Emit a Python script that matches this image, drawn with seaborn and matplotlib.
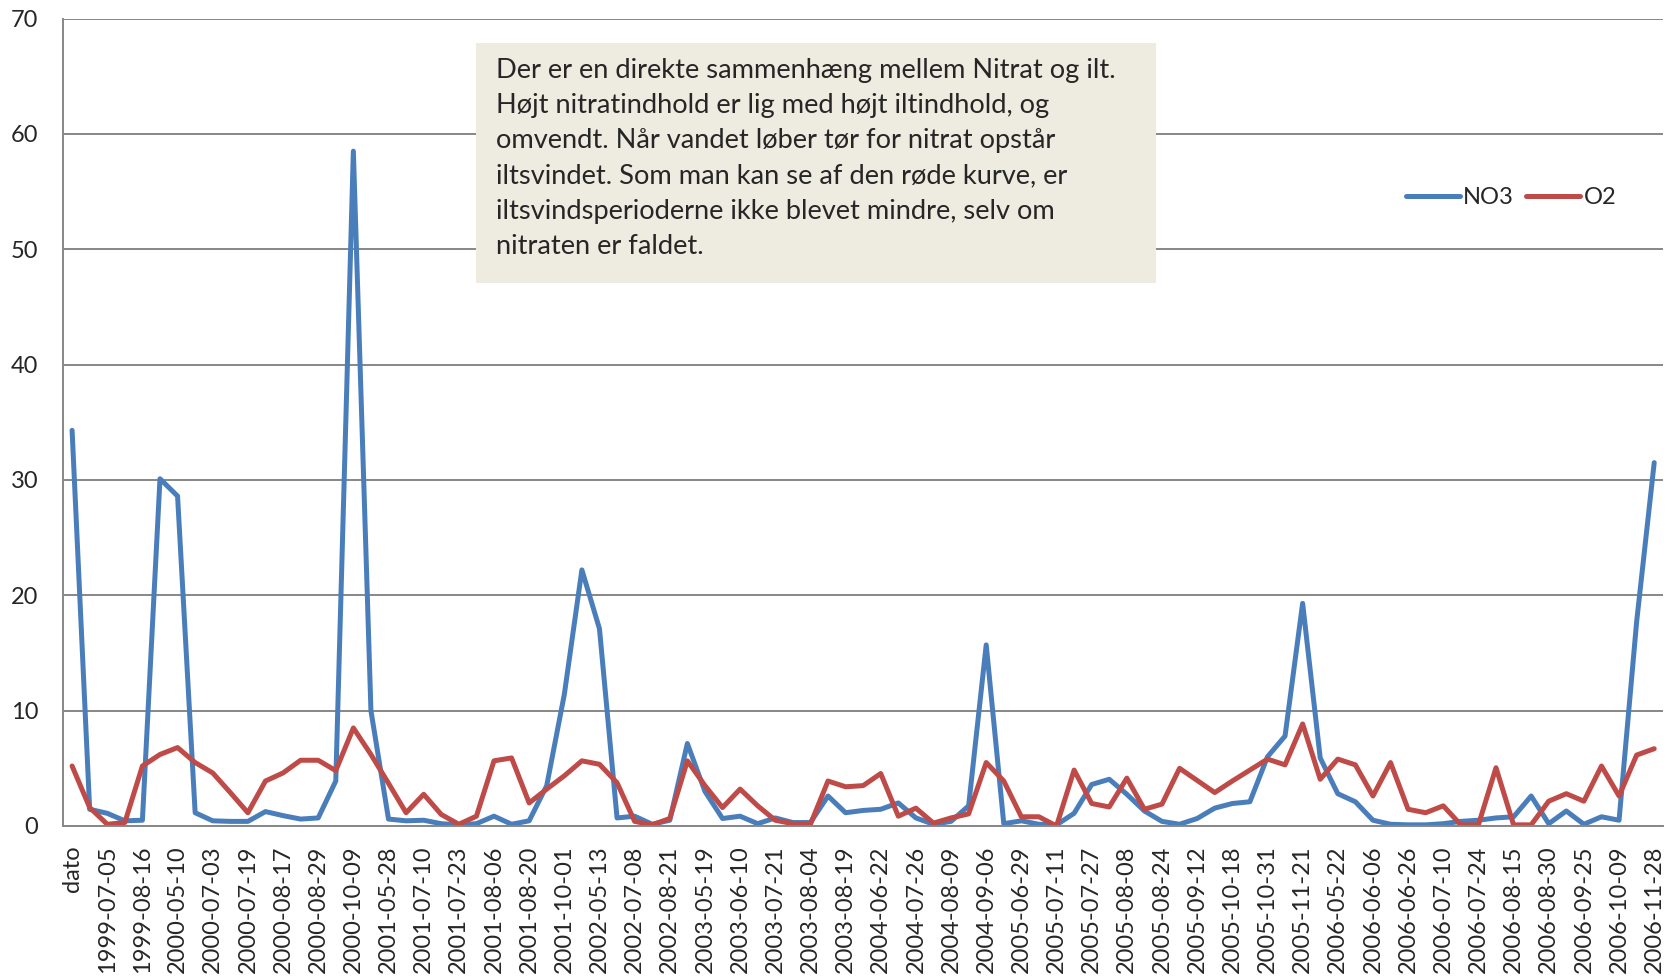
import numpy as np
import pandas as pd
import seaborn as sns
import matplotlib.pyplot as plt
from matplotlib.patches import Rectangle

# tick labels shown on the x axis (every second sample)
labels = ['dato', '1999-07-05', '1999-08-16', '2000-05-10', '2000-07-03', '2000-07-19',
          '2000-08-17', '2000-08-29', '2000-10-09', '2001-05-28', '2001-07-10', '2001-07-23',
          '2001-08-06', '2001-08-20', '2001-10-01', '2002-05-13', '2002-07-08', '2002-08-21',
          '2003-05-19', '2003-06-10', '2003-07-21', '2003-08-04', '2003-08-19', '2004-06-22',
          '2004-07-26', '2004-08-09', '2004-09-06', '2005-06-29', '2005-07-11', '2005-07-27',
          '2005-08-08', '2005-08-24', '2005-09-12', '2005-10-18', '2005-10-31', '2005-11-21',
          '2006-05-22', '2006-06-06', '2006-06-26', '2006-07-10', '2006-07-24', '2006-08-15',
          '2006-08-30', '2006-09-25', '2006-10-09', '2006-11-28']

no3 = [34.3, 1.45, 1.1, 0.45, 0.5, 30.1, 28.6, 1.15, 0.45, 0.4, 0.4, 1.25, 0.9, 0.6, 0.7, 3.9, 58.5, 10.0, 0.6, 0.45,
       0.5, 0.2, 0.1, 0.2, 0.85, 0.15, 0.45, 3.5, 11.4, 22.2, 17.1, 0.7, 0.85, 0.15, 0.5, 7.15, 3.0, 0.65, 0.85, 0.2, 0.7, 0.3, 0.3,
       2.6, 1.15, 1.35, 1.45, 2.0, 0.7, 0.15, 0.4, 1.75, 15.7, 0.2, 0.45, 0.15, 0.1, 1.1, 3.6, 4.05, 2.75, 1.3, 0.4, 0.15, 0.65, 1.55, 1.95,
       2.1, 6.0, 7.8, 19.3, 5.9, 2.8, 2.1, 0.5, 0.15, 0.1, 0.1, 0.2, 0.4, 0.5, 0.7, 0.8, 2.6, 0.2, 1.3, 0.15, 0.8, 0.5, 17.7, 31.5]

o2 = [5.2, 1.6, 0.15, 0.3, 5.2, 6.2, 6.8, 5.5, 4.6, 2.9, 1.15, 3.9, 4.6, 5.7, 5.7, 4.8, 8.5, 6.2, 3.7, 1.15,
      2.75, 1.0, 0.15, 0.85, 5.65, 5.9, 2.0, 3.2, 4.35, 5.65, 5.35, 3.75, 0.4, 0.1, 0.65, 5.65, 3.5, 1.6, 3.2, 1.75, 0.5, 0.2, 0.15,
      3.9, 3.4, 3.5, 4.55, 0.85, 1.55, 0.25, 0.7, 1.05, 5.5, 3.9, 0.8, 0.8, 0.0, 4.85, 1.95, 1.65, 4.15, 1.45, 1.9, 5.0, 3.95, 2.9, 3.9,
      4.85, 5.8, 5.3, 8.85, 4.05, 5.8, 5.3, 2.6, 5.5, 1.45, 1.15, 1.75, 0.1, 0.1, 5.05, 0.1, 0.1, 2.15, 2.8, 2.15, 5.2, 2.6, 6.15, 6.7]

series = ['NO3', 'O2']
colors = {'NO3': '#4A7EBB', 'O2': '#BE4B48'}

note = ("Der er en direkte sammenhæng mellem Nitrat og ilt.\n"
        "Højt nitratindhold er lig med højt iltindhold, og\n"
        "omvendt. Når vandet løber tør for nitrat opstår\n"
        "iltsvindet. Som man kan se af den røde kurve, er\n"
        "iltsvindsperioderne ikke blevet mindre, selv om\n"
        "nitraten er faldet.")

n = len(no3)
df = pd.DataFrame({'pos': np.tile(np.arange(n), 2),
                   'value': no3 + o2,
                   'serie': ['NO3'] * n + ['O2'] * n})

sns.set_style("white")
plt.rcParams['font.family'] = ['Lato', 'DejaVu Sans']

W, H = 1677, 977
fig = plt.figure(figsize=(W / 100, H / 100), dpi=100)
ax = fig.add_axes([63.3 / W, 1 - 826 / H, (1663 - 63.3) / W, (826 - 18.5) / H])

sns.lineplot(data=df, x='pos', y='value', hue='serie', palette=colors, linewidth=3.6,
             sort=False, legend=False, ax=ax)
for line in ax.lines:
    line.set_solid_joinstyle('round')
    line.set_solid_capstyle('round')

grey = '#878787'
ax.set_xlim(-0.5, n - 0.5)
ax.set_ylim(0, 70)
ax.set_yticks(range(0, 71, 10))
ax.yaxis.grid(True, color=grey, linewidth=1.4)
ax.set_xticks(np.arange(0, n, 2))
ax.set_xticklabels(labels, rotation=90)
ax.set_xticks(np.arange(-0.5, n, 1), minor=True)
ax.tick_params(axis='x', which='major', length=0, pad=14, labelsize=17)
ax.tick_params(axis='x', which='minor', length=6, width=1.4, color=grey, direction='out')
ax.tick_params(axis='y', length=6, width=1.4, color=grey, pad=12, labelsize=17)
ax.set_xlabel('')
ax.set_ylabel('')
for s in ['top', 'right']:
    ax.spines[s].set_visible(False)
for s in ['left', 'bottom']:
    ax.spines[s].set_color(grey)
    ax.spines[s].set_linewidth(1.4)

# note box
fig.add_artist(Rectangle((476 / W, 1 - 283 / H), (1156 - 476) / W, (283 - 43) / H,
                         transform=fig.transFigure, facecolor='#EEEBE0', edgecolor='none', zorder=5))
fig.text(496 / W, 1 - 58 / H, note, ha='left', va='top', fontsize=19.6, linespacing=1.51, zorder=6)

fig.legend(handles=ax.lines[:2], labels=series, loc='center', bbox_to_anchor=(1511 / W, 1 - 198 / H),
           ncol=2, frameon=False, fontsize=17, handlelength=2.3, handletextpad=0.15, columnspacing=0.5)

fig.savefig('out.png', dpi=100)
